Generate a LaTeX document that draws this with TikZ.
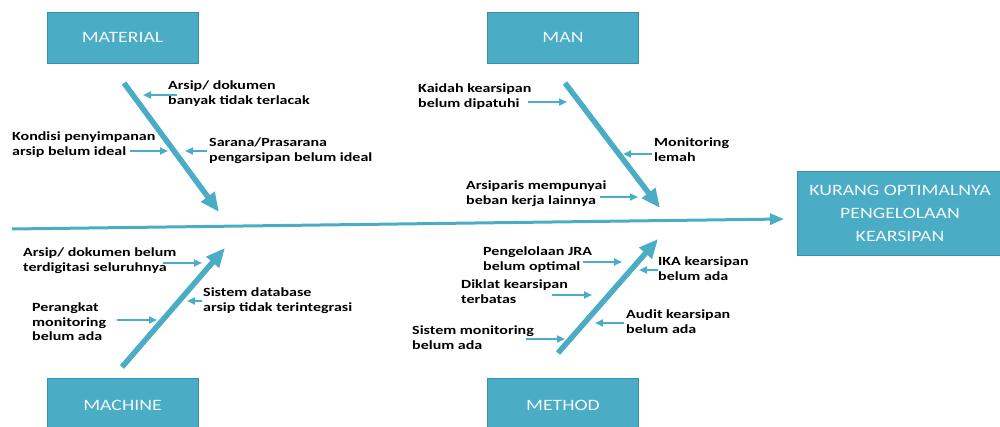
\documentclass[tikz,border=0pt]{standalone}
\usepackage{fontspec}
\usetikzlibrary{arrows.meta}
\newfontfamily\causefont[FakeStretch=1.28]{Carlito}
\newfontfamily\boxfont[FakeStretch=1.25]{Carlito}
\definecolor{teal}{HTML}{4BACC6}
\definecolor{tealedge}{HTML}{3A8FA6}
\definecolor{boxtext}{HTML}{F2F8FA}
\tikzset{
  catbox/.style={draw=tealedge, line width=0.8pt, fill=teal, text=boxtext,
    minimum width=151pt, minimum height=51pt, inner sep=0pt,
    font=\boxfont\fontsize{15.8}{23}\selectfont, align=center},
  cause/.style={font=\causefont\bfseries\fontsize{12.5}{14.5}\selectfont,
    align=left, anchor=north west, inner sep=0pt, text=black},
  bone/.style={draw=teal, line width=5.5pt, -{Triangle[length=19pt,width=16pt]}},
  spine/.style={draw=teal, line width=3pt, -{Triangle[length=14pt,width=11pt]}},
  twig/.style={draw=teal, line width=2pt, -{Triangle[length=8pt,width=7pt]}}
}
\begin{document}
\begin{tikzpicture}[x=1pt,y=-1pt]
\useasboundingbox (0,0) rectangle (1000,427);

% category boxes and effect box
\node[catbox] (material) at (122.5,37.5) {MATERIAL};
\node[catbox] (man) at (563,37.5) {MAN};
\node[catbox, minimum height=54pt] (machine) at (122.5,405) {MACHINE};
\node[catbox, minimum height=54pt] (method) at (563,405) {METHOD};
\node[catbox, minimum width=206pt, minimum height=84pt] (effect) at (900,213)
  {KURANG OPTIMALNYA\\PENGELOLAAN\\KEARSIPAN};

% spine
\coordinate (spineS) at (12,229);
\coordinate (spineE) at (784,219);
\draw[spine] (spineS) -- (spineE);

% main bones
\coordinate (matS) at (124,83);  \coordinate (matE) at (219,212);
\coordinate (manS) at (565,83);  \coordinate (manE) at (660,208);
\coordinate (macS) at (122,367); \coordinate (macE) at (225,248);
\coordinate (metS) at (558,353); \coordinate (metE) at (658,239);
\draw[bone] (matS) -- (matE);
\draw[bone] (manS) -- (manE);
\draw[bone] (macS) -- (macE);
\draw[bone] (metS) -- (metE);

% MATERIAL causes
\node[cause] (a1) at (168,81) {Arsip/ dokumen\\banyak tidak terlacak};
\node[cause] (a2) at (12,132) {Kondisi penyimpanan\\arsip belum ideal};
\node[cause] (a3) at (209,138) {Sarana/Prasarana\\pengarsipan belum ideal};
\coordinate (a1s) at (177,95);  \coordinate (a1e) at (143,95);
\coordinate (a2s) at (130,151); \coordinate (a2e) at (168,151);
\coordinate (a3s) at (207,151); \coordinate (a3e) at (185,151);
\draw[twig] (a1s) -- (a1e);
\draw[twig] (a2s) -- (a2e);
\draw[twig] (a3s) -- (a3e);

% MAN causes
\node[cause] (b1) at (418,84) {Kaidah kearsipan\\belum dipatuhi};
\node[cause] (b2) at (654,138) {Monitoring\\lemah};
\node[cause] (b3) at (466,181) {Arsiparis mempunyai\\beban kerja lainnya};
\coordinate (b1s) at (528,102); \coordinate (b1e) at (567,102);
\coordinate (b2s) at (652,154); \coordinate (b2e) at (623,154);
\coordinate (b3s) at (600,197); \coordinate (b3e) at (638,197);
\draw[twig] (b1s) -- (b1e);
\draw[twig] (b2s) -- (b2e);
\draw[twig] (b3s) -- (b3e);

% MACHINE causes
\node[cause] (c1) at (23,248) {Arsip/ dokumen belum\\terdigitasi seluruhnya};
\node[cause] (c2) at (203,288) {Sistem database\\arsip tidak terintegrasi};
\node[cause] (c3) at (32,303) {Perangkat\\monitoring\\belum ada};
\coordinate (c1s) at (163,263); \coordinate (c1e) at (202,263);
\coordinate (c2s) at (202,301); \coordinate (c2e) at (187,301);
\coordinate (c3s) at (117,320); \coordinate (c3e) at (157,320);
\draw[twig] (c1s) -- (c1e);
\draw[twig] (c2s) -- (c2e);
\draw[twig] (c3s) -- (c3e);

% METHOD causes
\node[cause] (d1) at (483,247) {Pengelolaan JRA\\belum optimal};
\node[cause] (d2) at (658,257) {IKA kearsipan\\belum ada};
\node[cause] (d3) at (461,280) {Diklat kearsipan\\terbatas};
\node[cause] (d4) at (626,310) {Audit kearsipan\\belum ada};
\node[cause] (d5) at (412,326) {Sistem monitoring\\belum ada};
\coordinate (d1s) at (583,262); \coordinate (d1e) at (622,262);
\coordinate (d2s) at (658,270); \coordinate (d2e) at (639,270);
\coordinate (d3s) at (552,295); \coordinate (d3e) at (592,295);
\coordinate (d4s) at (624,323); \coordinate (d4e) at (595,323);
\coordinate (d5s) at (526,339); \coordinate (d5e) at (565,339);
\draw[twig] (d1s) -- (d1e);
\draw[twig] (d2s) -- (d2e);
\draw[twig] (d3s) -- (d3e);
\draw[twig] (d4s) -- (d4e);
\draw[twig] (d5s) -- (d5e);
\end{tikzpicture}
\end{document}
